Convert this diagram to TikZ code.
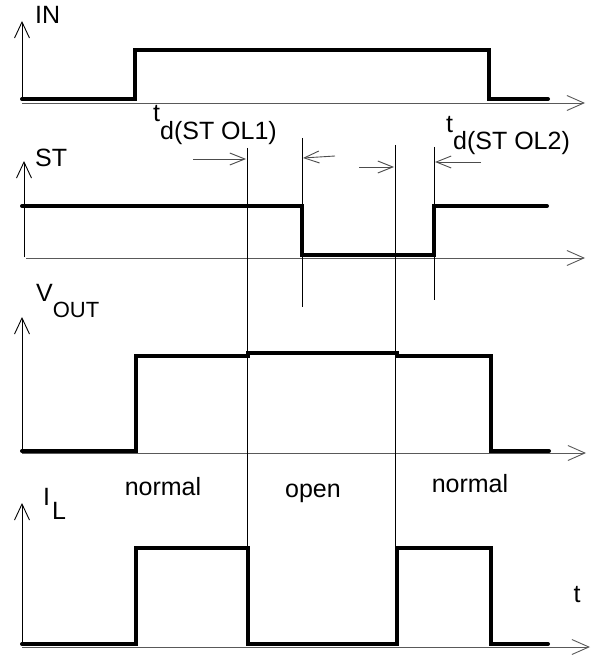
\documentclass[tikz,border=0pt]{standalone}
\usepackage{fontspec}
\setmainfont{Liberation Sans}
\usetikzlibrary{arrows.meta}
\begin{document}
\begin{tikzpicture}[x=1pt,y=-1pt,
  sig/.style={line width=4pt,line cap=round,line join=miter},
  haxis/.style={line width=0.9pt,draw=black!65,-{Straight Barb[length=17pt,width=15pt,line width=0.9pt]}},
  vaxis/.style={line width=0.9pt,-{Straight Barb[length=16pt,width=15pt,line width=0.9pt]}},
  marker/.style={line width=0.8pt},
  dly/.style={line width=0.9pt,draw=black!70,-{Straight Barb[length=15pt,width=12pt,line width=0.9pt]}},
  lbl/.style={font=\fontsize{25}{30}\selectfont,inner sep=0pt}]
\useasboundingbox (0,0) rectangle (595,655);
% axes
\draw[vaxis] (22,100) -- (22,21);
\draw[haxis] (22,103) -- (585,103);
\draw[vaxis] (24,257) -- (24,161);
\draw[haxis] (26,258) -- (585,258);
\draw[vaxis] (22,451) -- (22,317);
\draw[haxis] (22,453) -- (586,453);
\draw[vaxis] (22,644) -- (22,503);
\draw[haxis] (22,647) -- (590,647);
% marker lines
\coordinate (a1) at (247,148); \coordinate (a2) at (247,645);
\coordinate (b1) at (302,138); \coordinate (b2) at (302,307);
\coordinate (c1) at (395,145); \coordinate (c2) at (395,645);
\coordinate (d1) at (434,147); \coordinate (d2) at (434,300);
\draw[marker] (a1) -- (a2);
\draw[marker] (b1) -- (b2);
\draw[marker] (c1) -- (c2);
\draw[marker] (d1) -- (d2);
% delay arrows
\coordinate (p1) at (193,159); \coordinate (p2) at (246,159);
\coordinate (q1) at (335,156); \coordinate (q2) at (303,158);
\coordinate (r1) at (359,167); \coordinate (r2) at (394,167);
\coordinate (s1) at (481,162); \coordinate (s2) at (435,162);
\draw[dly] (p1) -- (p2);
\draw[dly] (q1) -- (q2);
\draw[dly] (r1) -- (r2);
\draw[dly] (s1) -- (s2);
% signals
\draw[sig] (22,99) -- (135,99) -- (135,50) -- (489,50) -- (489,99) -- (548,99);
\draw[sig] (22,206) -- (302,206) -- (302,255) -- (434,255) -- (434,206) -- (547,206);
\draw[sig] (22,451) -- (136,451) -- (136,356) -- (248,356) -- (248,353) -- (397,353) -- (397,356) -- (491,356) -- (491,451) -- (549,451);
\draw[sig] (22,644) -- (136,644) -- (136,548) -- (248,548) -- (248,644) -- (397,644) -- (397,548) -- (491,548) -- (491,644) -- (548,644);
% labels
\node[lbl,anchor=base west] (in) at (35,24) {IN};
\node[lbl,anchor=base west] (st) at (35,167) {ST};
\node[lbl,anchor=base west] (td1) at (153,122) {t\raisebox{-18pt}{d(ST OL1)}};
\node[lbl,anchor=base west] (td2) at (446,133) {t\raisebox{-17pt}{d(ST OL2)}};
\node[lbl,anchor=base west] (vout) at (36,301) {V\raisebox{-16pt}{\fontsize{22}{26}\selectfont OUT}};
\node[lbl,anchor=base west] (il) at (43,505) {I\hspace{2pt}\raisebox{-14pt}{L}};
\node[lbl,anchor=base] (n1) at (163,495) {normal};
\node[lbl,anchor=base] (op) at (313,497) {open};
\node[lbl,anchor=base] (n2) at (470,492) {normal};
\node[lbl,anchor=base] (t) at (577,602) {t};
\end{tikzpicture}
\end{document}
